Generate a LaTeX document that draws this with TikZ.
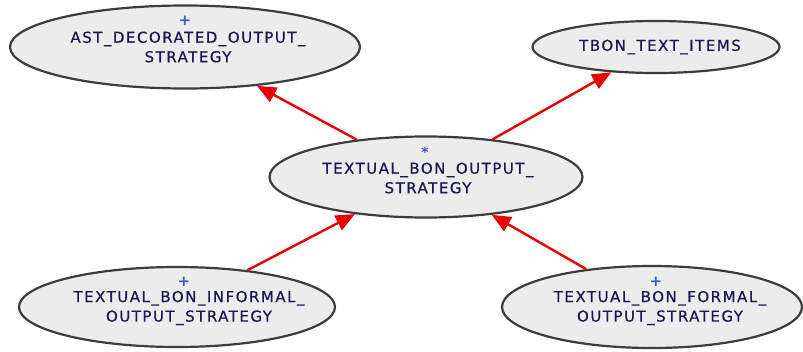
\documentclass[tikz,border=0pt]{standalone}
\usepackage{fontspec}
\usetikzlibrary{shapes.geometric,arrows.meta}
\newfontfamily\lblfont[LetterSpace=10,FakeBold=0.6]{DejaVu Sans}
\newfontfamily\markfont{DejaVu Sans}
\definecolor{classfill}{RGB}{236,236,236}
\definecolor{classedge}{RGB}{60,60,60}
\definecolor{classtext}{RGB}{26,24,80}
\definecolor{markblue}{RGB}{60,90,200}
\definecolor{inherit}{RGB}{232,0,0}
\tikzset{
  classnode/.style={ellipse, draw=classedge, fill=classfill, line width=2.2pt, inner sep=0pt},
  classname/.style={font=\lblfont\fontsize{15}{19.5}\selectfont, text=classtext, align=center, inner sep=0pt},
  marker/.style={font=\markfont\bfseries\fontsize{15}{15}\selectfont, text=markblue, inner sep=0pt},
  inheritarrow/.style={draw=inherit, line width=2.4pt, -{Triangle[length=19pt,width=16pt]}}
}
\begin{document}
\begin{tikzpicture}[x=1pt,y=-1pt]
\useasboundingbox (0,0) rectangle (803,351);

% class ellipses
\node[classnode, minimum width=350, minimum height=83] (ast) at (185,47) {};
\node[classnode, minimum width=247, minimum height=52] (items) at (656,47) {};
\node[classnode, minimum width=313, minimum height=81] (textual) at (426,177) {};
\node[classnode, minimum width=316, minimum height=80] (informal) at (177,307) {};
\node[classnode, minimum width=300, minimum height=82] (formal) at (652,307) {};

% class names and markers
\node[marker] (ast-mark) at (185,21) {+};
\node[classname] (ast-name) at (188,47) {AST\_DECORATED\_OUTPUT\_\\STRATEGY};
\node[classname] (items-name) at (660,47) {TBON\_TEXT\_ITEMS};
\node[marker, font=\markfont\bfseries\fontsize{14}{14}\selectfont] (textual-mark) at (425,152) {*};
\node[classname] (textual-name) at (428,178) {TEXTUAL\_BON\_OUTPUT\_\\STRATEGY};
\node[marker] (informal-mark) at (184,282) {+};
\node[classname] (informal-name) at (189,308) {TEXTUAL\_BON\_INFORMAL\_\\OUTPUT\_STRATEGY};
\node[marker] (formal-mark) at (656,282) {+};
\node[classname] (formal-name) at (660,308) {TEXTUAL\_BON\_FORMAL\_\\OUTPUT\_STRATEGY};

% inheritance links
\draw[inheritarrow] (textual) -- (ast);
\draw[inheritarrow] (textual) -- (items);
\draw[inheritarrow] (informal) -- (textual);
\draw[inheritarrow] (formal) -- (textual);
\end{tikzpicture}
\end{document}
